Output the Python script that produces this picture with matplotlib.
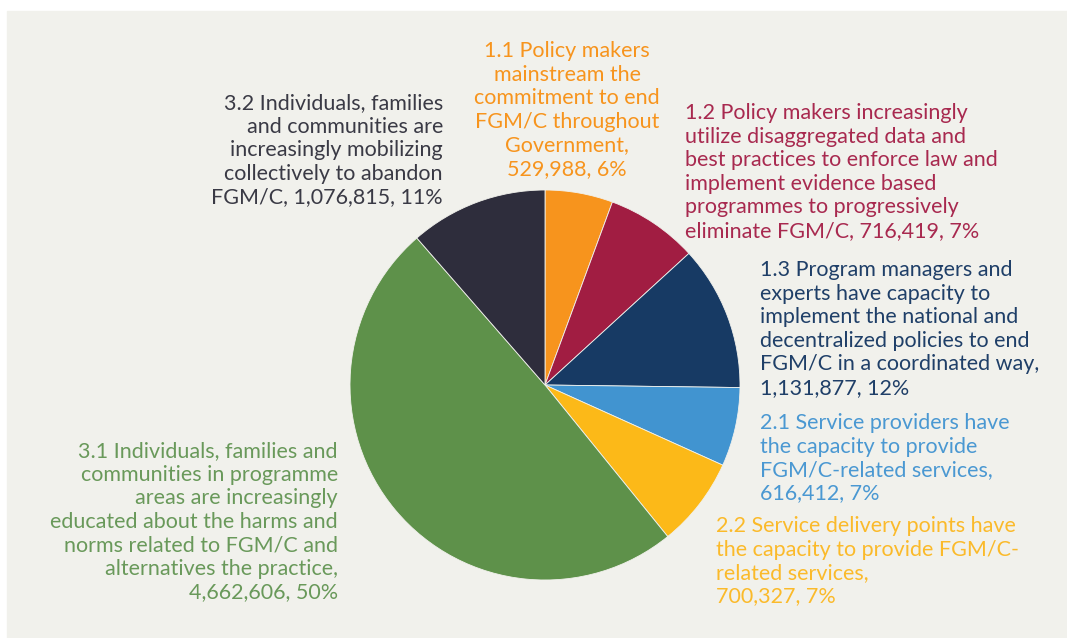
import matplotlib.pyplot as plt
from matplotlib.patches import Rectangle

labels = [
    "1.1 Policy makers\nmainstream the\ncommitment to end\nFGM/C throughout\nGovernment,\n529,988, 6%",
    "1.2 Policy makers increasingly\nutilize disaggregated data and\nbest practices to enforce law and\nimplement evidence based\nprogrammes to progressively\neliminate FGM/C, 716,419, 7%",
    "1.3 Program managers and\nexperts have capacity to\nimplement the national and\ndecentralized policies to end\nFGM/C in a coordinated way,\n1,131,877, 12%",
    "2.1 Service providers have\nthe capacity to provide\nFGM/C-related services,\n616,412, 7%",
    "2.2 Service delivery points have\nthe capacity to provide FGM/C-\nrelated services,\n700,327, 7%",
    "3.1 Individuals, families and\ncommunities in programme\nareas are increasingly\neducated about the harms and\nnorms related to FGM/C and\nalternatives the practice,\n4,662,606, 50%",
    "3.2 Individuals, families\nand communities are\nincreasingly mobilizing\ncollectively to abandon\nFGM/C, 1,076,815, 11%",
]
values = [529988, 716419, 1131877, 616412, 700327, 4662606, 1076815]
colors = ["#F7941D", "#A11D42", "#173A64", "#4194D0", "#FCB918", "#5E914A", "#2E2D3C"]
text_colors = ["#F7941D", "#A8294F", "#1F3F68", "#4A98D2", "#FBBA2A", "#69995A", "#3A3A45"]

W, H = 1067, 638
fig = plt.figure(figsize=(W / 100, H / 100), dpi=100)
ax = fig.add_axes([0, 0, 1, 1])

# grey panel
ax.add_patch(Rectangle((7, 0), W - 7, H - 11, color="#F1F1EC", zorder=0))

cx, cy, r = 545, H - 385, 195
ax.pie(values, colors=colors, startangle=90, counterclock=False,
       center=(cx, cy), radius=r, frame=True,
       wedgeprops=dict(linewidth=0.6, edgecolor="#F1F1EC"))
ax.set_xlim(0, W)
ax.set_ylim(0, H)
ax.set_aspect("equal")
ax.axis("off")

# label anchors (x, top y in pixels, alignment)
spots = [
    (567, 41, "center"),
    (685, 103, "left"),
    (760, 260, "left"),
    (760, 413, "left"),
    (716, 516, "left"),
    (338, 441, "right"),
    (443, 93, "right"),
]
for lab, tc, (x, y, ha) in zip(labels, text_colors, spots):
    ax.text(x, H - y, lab, color=tc, ha=ha, va="top", multialignment=ha,
            fontsize=15.5, family="Lato", linespacing=1.22)

fig.savefig("out.png", dpi=100)
